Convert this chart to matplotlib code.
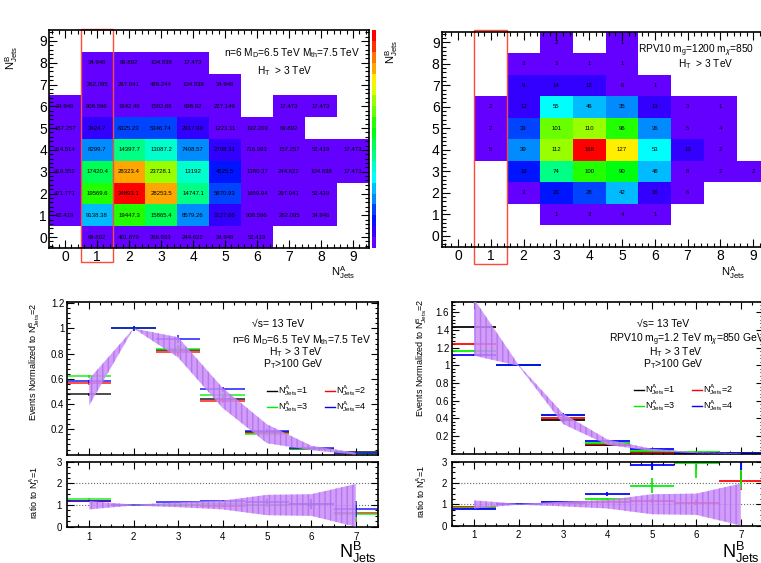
import colorsys
import numpy as np
import matplotlib
matplotlib.use('Agg')
import matplotlib.pyplot as plt
from matplotlib.colors import ListedColormap, Normalize
from matplotlib.cm import ScalarMappable
from matplotlib.patches import Rectangle
from matplotlib.lines import Line2D
from matplotlib.ticker import MultipleLocator

plt.rcParams['font.family'] = ['Liberation Sans', 'DejaVu Sans']
plt.rcParams['mathtext.fontset'] = 'custom'
plt.rcParams['mathtext.rm'] = 'Liberation Sans'
plt.rcParams['mathtext.it'] = 'Liberation Sans:italic'
plt.rcParams['mathtext.bf'] = 'Liberation Sans:bold'

# ---- 2D maps: rows = N^B_Jets 0..9, columns = N^A_Jets 0..9 (0 = empty bin)
nA = list(range(10))
nB = list(range(10))
bh_map = [
    [0, 69.892, 401.879, 366.933, 244.622, 34.946, 52.419, 0, 0, 0],
    [52.419, 9138.38, 19447.3, 15865.4, 8579.26, 3127.68, 908.596, 262.095, 34.946, 0],
    [471.771, 19569.6, 34893.1, 28253.5, 14747.1, 5870.93, 1659.94, 297.041, 52.419, 0],
    [419.352, 17420.4, 28323.4, 23728.1, 13192, 4525.5, 1380.37, 244.622, 104.838, 17.473],
    [314.514, 8299.7, 14397.7, 13087.2, 7408.57, 2708.31, 716.393, 157.257, 52.419, 17.473],
    [157.257, 3424.7, 6325.23, 5346.74, 2917.99, 1223.11, 192.203, 69.892, 0, 0],
    [34.946, 908.596, 1642.46, 1502.68, 698.92, 227.149, 0, 17.473, 17.473, 0],
    [0, 262.095, 297.041, 489.244, 104.838, 34.946, 0, 0, 0, 0],
    [0, 34.946, 69.892, 104.838, 17.473, 0, 0, 0, 0, 0],
    [0, 0, 0, 0, 0, 0, 0, 0, 0, 0],
]
rpv_map = [
    [0, 0, 0, 0, 0, 0, 0, 0, 0, 0],
    [0, 0, 0, 1, 3, 4, 1, 0, 0, 0],
    [0, 0, 3, 20, 28, 42, 16, 6, 0, 0],
    [0, 0, 19, 74, 100, 90, 48, 8, 2, 2],
    [0, 5, 39, 112, 168, 127, 53, 13, 2, 0],
    [0, 2, 33, 101, 110, 96, 36, 5, 4, 0],
    [0, 2, 12, 55, 46, 35, 13, 3, 1, 0],
    [0, 0, 9, 14, 12, 6, 1, 0, 0, 0],
    [0, 0, 3, 3, 1, 1, 0, 0, 0, 0],
    [0, 0, 0, 2, 0, 1, 0, 0, 0, 0],
]

# ---- N^B_Jets distributions normalised to N^B_Jets = 2
nb = [1, 2, 3, 4, 5, 6, 7]
bh_n1 = [0.48, 1.0, 0.83, 0.443, 0.175, 0.047, 0.018]
bh_n2 = [0.565, 1.0, 0.81, 0.425, 0.168, 0.047, 0.012]
bh_n3 = [0.62, 1.0, 0.84, 0.47, 0.16, 0.047, 0.011]
bh_n4 = [0.58, 1.0, 0.915, 0.517, 0.188, 0.05, 0.015]
bh_err = [0.012, 0.02, 0.03, 0.02, 0.012, 0.005, 0.003]
bh_band_lo = [0.39, 1.0, 0.77, 0.37, 0.09, 0.035, 0.0]
bh_band_hi = [0.60, 1.0, 0.93, 0.53, 0.24, 0.07, 0.015]

bh_r2 = [1.17, 1.0, 0.98, 0.96, 1.0, 1.03, 0.62]
bh_r3 = [1.28, 1.0, 1.02, 1.06, 1.0, 1.03, 0.6]
bh_r4 = [1.2, 1.0, 1.12, 1.18, 1.16, 1.06, 0.82]
bh_rerr = [0.03, 0.01, 0.04, 0.05, 0.1, 0.22, 0.38]

rpv_n1 = [1.435, 1.0, 0.378, 0.10, 0.017, 0.005, 0.002]
rpv_n2 = [1.245, 1.0, 0.408, 0.11, 0.02, 0.0055, 0.004]
rpv_n3 = [1.162, 1.0, 0.442, 0.125, 0.033, 0.014, 0.007]
rpv_n4 = [1.117, 1.0, 0.435, 0.145, 0.048, 0.01, 0.004]
rpv_err = [0.01, 0.012, 0.02, 0.015, 0.008, 0.004, 0.003]
rpv_band_lo = [1.11, 0.995, 0.335, 0.10, 0.03, 0.005, 0.0]
rpv_band_hi = [1.75, 1.005, 0.455, 0.16, 0.055, 0.015, 0.005]

rpv_r2 = [0.87, 1.0, 1.08, 1.1, 1.15, 1.08, 2.1]
rpv_r3 = [0.81, 1.0, 1.12, 1.25, 1.87, 2.95, 3.3]
rpv_r4 = [0.78, 1.0, 1.12, 1.47, 2.83, 3.6, 3.6]
rpv_r2err = [0.02, 0.01, 0.03, 0.05, 0.08, 0.12, 0.45]
rpv_r3err = [0.02, 0.01, 0.03, 0.06, 0.35, 0.7, 1.6]
rpv_r4err = [0.02, 0.01, 0.03, 0.1, 0.2, 0.5, 1.0]

ratio_band_lo = [0.8, 0.98, 0.9, 0.8, 0.53, 0.5, 0.0]
ratio_band_hi = [1.18, 1.02, 1.12, 1.2, 1.47, 1.5, 1.97]

series_colors = ['black', 'red', '#00ee00', 'blue']
legend_labels = [r'$\mathrm{N^{A}_{Jets}}$=1', r'$\mathrm{N^{A}_{Jets}}$=2',
                 r'$\mathrm{N^{A}_{Jets}}$=3', r'$\mathrm{N^{A}_{Jets}}$=4']

W, H = 761, 563
fig = plt.figure(figsize=(W / 100, H / 100), dpi=100)


def box(x0, y0, x1, y1):
    return [x0 / W, 1 - y1 / H, (x1 - x0) / W, (y1 - y0) / H]


def ftext(px, py, s, **kw):
    kw.setdefault('va', 'center')
    fig.text(px / W, 1 - py / H, s, **kw)


# ROOT "pretty" palette, 20 contour levels
ndiv = 20
pal = []
for i in range(ndiv):
    k = int((i + 0.99) * 50 / ndiv)
    hue = 280 - (k + 1) * 280 / 50
    pal.append(colorsys.hls_to_rgb(hue / 360, 0.5, 1.0))
cmap = ListedColormap(pal)


def draw_map(ax, counts):
    z = np.array(counts, float)
    edges = np.arange(-0.5, 10.5, 1)
    norm = Normalize(0, z.max())
    ax.pcolormesh(edges, edges, np.ma.masked_less_equal(z, 0), cmap=cmap, norm=norm)
    for j, row in enumerate(counts):
        for i, v in enumerate(row):
            if v > 0:
                ax.text(nA[i], nB[j], '%g' % v, ha='center', va='center', fontsize=4.3)
    ax.set_xlim(-0.5, 9.5)
    ax.set_ylim(-0.5, 9.5)
    ax.set_xticks(nA)
    ax.set_yticks(nB)
    ax.xaxis.set_minor_locator(MultipleLocator(0.2))
    ax.yaxis.set_minor_locator(MultipleLocator(0.2))
    ax.tick_params(which='both', direction='in', top=True, right=True, labelsize=10, pad=1.5)
    ax.tick_params(which='major', length=6, width=0.8)
    ax.tick_params(which='minor', length=3, width=0.8)
    for s in ax.spines.values():
        s.set_linewidth(1.2)
    return norm


ax1 = fig.add_axes(box(49, 30, 369, 248))
norm1 = draw_map(ax1, bh_map)
ax1.add_patch(Rectangle((0.5, -1.15), 1.0, 10.7, fill=False, ec='#ff4a3a', lw=1.0, clip_on=False))
cax = fig.add_axes(box(372, 30, 376, 248))
cb = fig.colorbar(ScalarMappable(norm=norm1, cmap=cmap), cax=cax)
cb.outline.set_visible(False)
cb.set_ticks([])

ax2 = fig.add_axes(box(441.6, 31.5, 769.6, 246.5))
draw_map(ax2, rpv_map)
ax2.add_patch(Rectangle((0.5, -1.3), 1.0, 10.85, fill=False, ec='#ff4a3a', lw=1.0, clip_on=False))

ftext(12, 58, r'$\mathrm{N^{B}_{Jets}}$', rotation=90, ha='center', fontsize=8)
ftext(392, 52, r'$\mathrm{N^{B}_{Jets}}$', rotation=90, ha='center', fontsize=8)
ftext(355, 273, r'$\mathrm{N^{A}_{Jets}}$', ha='right', fontsize=8)
ftext(745, 273, r'$\mathrm{N^{A}_{Jets}}$', ha='right', fontsize=8)
ftext(224, 53, r'n=6 M$_\mathrm{D}$=6.5 TeV M$_\mathrm{th}$=7.5 TeV', fontsize=7.3)
ftext(257, 71, r'H$_\mathrm{T}$  > 3 TeV', fontsize=7.3)
ftext(638, 51, r'RPV10 m$_\mathrm{g}$=1200 m$_\chi$=850', fontsize=7.3)
ftext(678, 64, r'H$_\mathrm{T}$  > 3 TeV', fontsize=7.3)


def style(ax, minor_y, pad):
    ax.set_xlim(0.5, 7.5)
    ax.xaxis.set_minor_locator(MultipleLocator(0.25))
    ax.yaxis.set_minor_locator(MultipleLocator(minor_y))
    ax.tick_params(which='both', direction='in', top=True, right=True, labelsize=7, pad=pad)
    ax.tick_params(which='major', length=5, width=0.8)
    ax.tick_params(which='minor', length=2.5, width=0.8)
    for s in ax.spines.values():
        s.set_linewidth(1.2)


def draw_dist(axm, axr, mains, err, blo, bhi, ratios, rerrs, ymax, yticks, alpha):
    for vals, c in zip(mains, series_colors):
        axm.errorbar(nb, vals, xerr=0.5, yerr=err, fmt='none', ecolor=c,
                     elinewidth=1.4, alpha=alpha)
    axm.fill_between(nb, blo, bhi, facecolor='#c98cf7', edgecolor='#b070f0',
                     hatch='|||', linewidth=0, alpha=0.85, zorder=3)
    axm.set_ylim(0.0005, ymax)
    axm.set_yticks(yticks)
    axm.set_yticklabels(['%g' % t for t in yticks])
    style(axm, 0.04, 2)
    axm.tick_params(labelbottom=False)

    for vals, e, c in zip(ratios, rerrs, series_colors[1:]):
        axr.errorbar(nb, vals, xerr=0.5, yerr=e, fmt='none', ecolor=c,
                     elinewidth=1.4, alpha=alpha)
    axr.fill_between(nb, ratio_band_lo, ratio_band_hi, facecolor='#c98cf7',
                     edgecolor='#b070f0', hatch='|||', linewidth=0, alpha=0.85, zorder=3)
    axr.axhline(1, color='0.4', ls=':', lw=0.8, zorder=1)
    axr.axhline(2, color='0.4', ls=':', lw=0.8, zorder=1)
    axr.set_ylim(0, 3)
    axr.set_yticks([0, 1, 2, 3])
    axr.set_xticks(nb)
    style(axr, 0.25, 3.5)


axm1 = fig.add_axes(box(67, 301.7, 378, 454.5))
axr1 = fig.add_axes(box(67, 461.7, 378, 526.7))
draw_dist(axm1, axr1, [bh_n1, bh_n2, bh_n3, bh_n4], bh_err, bh_band_lo, bh_band_hi,
          [bh_r2, bh_r3, bh_r4], [bh_rerr, bh_rerr, bh_rerr], 1.212,
          [0.2, 0.4, 0.6, 0.8, 1.0, 1.2], 0.7)

axm2 = fig.add_axes(box(452, 301.7, 763, 453.6))
axr2 = fig.add_axes(box(452, 461.7, 763, 525.5))
draw_dist(axm2, axr2, [rpv_n1, rpv_n2, rpv_n3, rpv_n4], rpv_err, rpv_band_lo, rpv_band_hi,
          [rpv_r2, rpv_r3, rpv_r4], [rpv_r2err, rpv_r3err, rpv_r4err], 1.722,
          [0.2, 0.4, 0.6, 0.8, 1.0, 1.2, 1.4, 1.6], 0.9)

# annotations of the lower panels
ftext(252, 324, '√s= 13 TeV', fontsize=7.5)
ftext(232, 340, r'n=6 M$_\mathrm{D}$=6.5 TeV M$_\mathrm{th}$=7.5 TeV', fontsize=7.5)
ftext(269, 352, r'H$_\mathrm{T}$ > 3 TeV', fontsize=7.5)
ftext(263, 364, r'P$_\mathrm{T}$>100 GeV', fontsize=7.5)
ftext(637, 324, '√s= 13 TeV', fontsize=7.5)
ftext(609, 340, r'RPV10 m$_\mathrm{g}$=1.2 TeV m$_\chi$=850 GeV', fontsize=7.5)
ftext(649, 352, r'H$_\mathrm{T}$ > 3 TeV', fontsize=7.5)
ftext(643, 364, r'P$_\mathrm{T}$>100 GeV', fontsize=7.5)

for x0, y0 in [(267, 391), (634, 390)]:
    for k in range(4):
        lx = x0 + (k % 2) * 58
        ly = y0 + (k // 2) * 16
        fig.add_artist(Line2D([lx / W, (lx + 10) / W], [1 - ly / H, 1 - ly / H],
                              color=series_colors[k], lw=1.0))
        ftext(lx + 11, ly, legend_labels[k], fontsize=6.5)

for px, py, py2 in [(35, 362, 493), (422, 358, 492)]:
    ftext(px, py, r'Events Normalized to $\mathrm{N^{B}_{Jets}}$=2', rotation=90,
          ha='center', fontsize=6.5)
    ftext(px, py2, r'ratio to $\mathrm{N^{A}_{J}}$=1', rotation=90, ha='center', fontsize=6.5)

ftext(377, 552, r'$\mathrm{N^{B}_{Jets}}$', ha='right', fontsize=13)
ftext(760, 552, r'$\mathrm{N^{B}_{Jets}}$', ha='right', fontsize=13)

fig.savefig('out.png', dpi=100)
